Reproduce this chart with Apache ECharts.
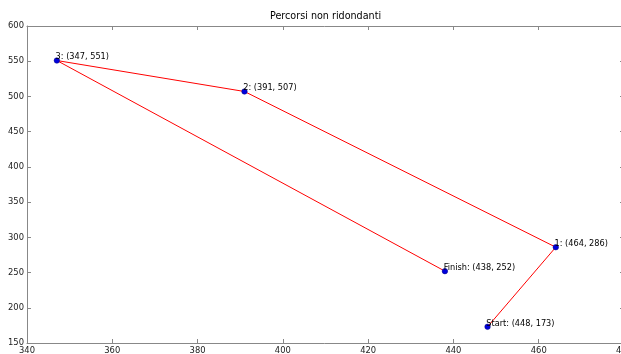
<!DOCTYPE html>
<html>
<head>
<meta charset="utf-8">
<script src="https://cdn.jsdelivr.net/npm/echarts@6/dist/echarts.min.js"></script>
<style>html,body{margin:0;padding:0;background:#fff;}#c{width:621px;height:354px;}</style>
</head>
<body>
<div id="c"></div>
<script>
const pointNames = ['Start', '1', '2', '3', 'Finish'];
const xValues = [448, 464, 391, 347, 438];
const yValues = [173, 286, 507, 551, 252];
const xTicks = {min: 340, max: 480, interval: 20};
const yTicks = {min: 150, max: 600, interval: 50};

const font = 'DejaVu Sans';
const axisColor = '#888888';
const data = xValues.map((x, i) => [x, yValues[i]]);

const chart = echarts.init(document.getElementById('c'), null, {renderer: 'canvas'});
const baseX = {
  type: 'value', min: xTicks.min, max: xTicks.max, interval: xTicks.interval,
  splitLine: {show: false},
  axisLine: {show: true, onZero: false, lineStyle: {color: axisColor, width: 1}},
  axisTick: {show: true, inside: true, length: 4, lineStyle: {color: axisColor}}
};
const baseY = {
  type: 'value', min: yTicks.min, max: yTicks.max, interval: yTicks.interval,
  splitLine: {show: false},
  axisLine: {show: true, onZero: false, lineStyle: {color: axisColor, width: 1}},
  axisTick: {show: true, inside: true, length: 4, lineStyle: {color: axisColor}}
};
chart.setOption({
  animation: false,
  title: {
    text: 'Percorsi non ridondanti', left: 270, top: 11, padding: 0,
    textStyle: {fontFamily: font, fontSize: 9.6, fontWeight: 'normal', color: '#000'}
  },
  grid: {left: 27, top: 26, right: -3, bottom: 11, containLabel: false, outerBoundsMode: 'none'},
  xAxis: [
    Object.assign({}, baseX, {position: 'bottom',
      axisLabel: {show: true, fontFamily: font, fontSize: 8.4, color: '#222', margin: 4}}),
    Object.assign({}, baseX, {position: 'top', axisLabel: {show: false}})
  ],
  yAxis: [
    Object.assign({}, baseY, {position: 'left',
      axisLabel: {show: true, fontFamily: font, fontSize: 8.4, color: '#222', margin: 3}}),
    Object.assign({}, baseY, {position: 'right', axisLabel: {show: false}})
  ],
  series: [{
    type: 'line',
    xAxisIndex: 0, yAxisIndex: 0,
    data: data,
    symbol: 'circle', symbolSize: 5.5,
    itemStyle: {color: '#0000dd', borderColor: '#000080', borderWidth: 0.5},
    lineStyle: {color: '#ff0000', width: 1},
    label: {
      show: true,
      position: [2.75, 2.75],
      align: 'left', verticalAlign: 'middle',
      offset: [-1, -3],
      fontFamily: font, fontSize: 8.2, color: '#000',
      formatter: p => pointNames[p.dataIndex] + ': (' + p.value[0] + ', ' + p.value[1] + ')'
    },
    z: 3
  }]
});
</script>
</body>
</html>
